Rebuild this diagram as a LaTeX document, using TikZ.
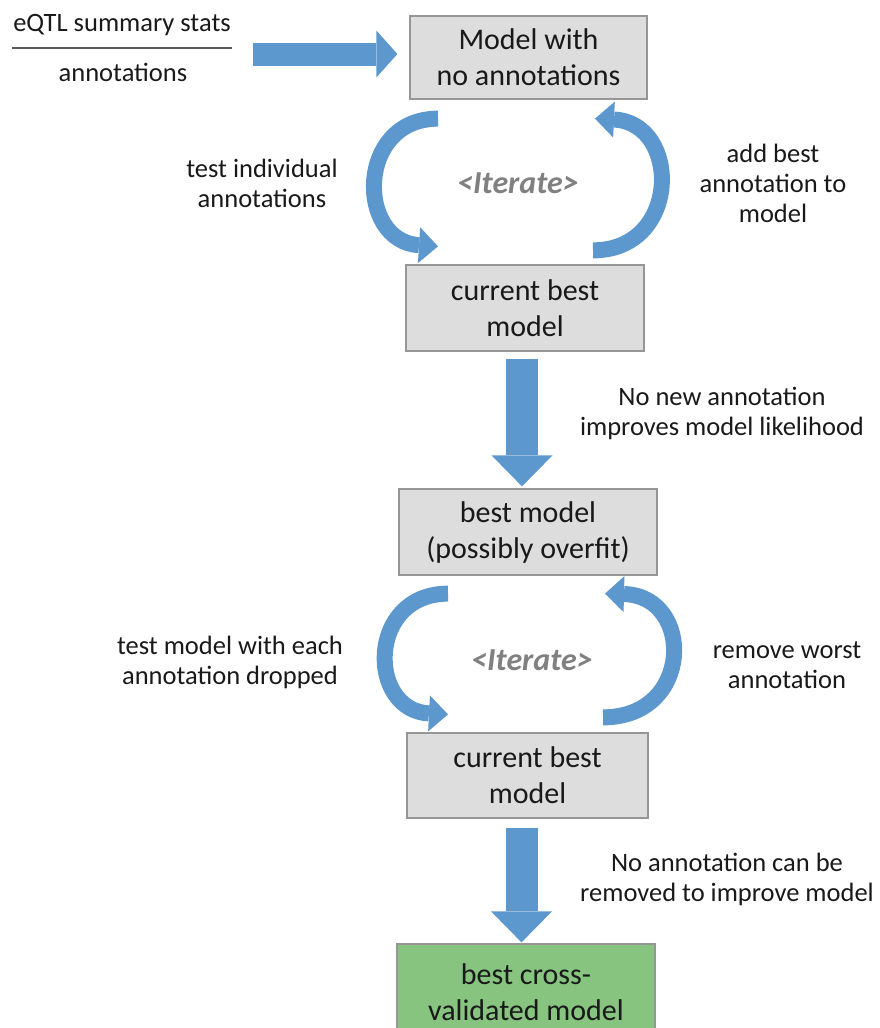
\documentclass[tikz,border=0pt]{standalone}
\usepackage{fontspec}
\setmainfont{Carlito}
\usetikzlibrary{arrows.meta,calc}
\definecolor{boxgray}{RGB}{221,221,221}
\definecolor{boxline}{RGB}{150,150,150}
\definecolor{bestgreen}{RGB}{134,196,128}
\definecolor{arrowblue}{RGB}{92,152,206}
\definecolor{textdark}{RGB}{25,25,25}
\definecolor{itergray}{RGB}{128,128,128}
\definecolor{rulegray}{RGB}{90,90,90}

\begin{document}
\begin{tikzpicture}[x=1pt,y=-1pt]
                \tikzstyle{every node}+=[inner sep=0pt, text=textdark]
                \tikzstyle{box}=[draw=boxline, fill=boxgray, line width=1.3pt, align=center, font=\fontsize{30}{36}\selectfont]
                \tikzstyle{lbl}=[align=center, font=\fontsize{26.5}{30}\selectfont]
                \tikzstyle{iter}=[font=\fontsize{32}{34}\selectfont\bfseries\itshape, text=itergray]
                \tikzstyle{bigarrow}=[arrowblue, line width=32pt, -{Triangle[width=61pt,length=31pt,line width=0pt]}]
                \tikzstyle{looparrow}=[arrowblue, line width=16pt, -{Triangle[width=36pt,length=19pt,line width=0pt]}]
                \clip (0,0) rectangle (880,1028);
                \node [lbl] (eqtl) at (122,25) {eQTL summary stats};
                \draw [rulegray, line width=2.5pt] (12,48) -- (232,48);
                \node [lbl] (annot) at (123,72) {annotations};
                \coordinate (src) at (253,54);
                \node [box, minimum width=237pt, minimum height=83pt] (init) at (528.5,57.5) {Model with\\no annotations};
                \node [box, minimum width=238pt, minimum height=86pt] (cur1) at (525,308) {current best\\model};
                \node [box, minimum width=258pt, minimum height=86pt] (over) at (528,532) {best model\\(possibly overfit)};
                \node [box, minimum width=241pt, minimum height=85pt] (cur2) at (527.5,775.5) {current best\\model};
                \node [box, fill=bestgreen, minimum width=258pt, minimum height=96pt] (final) at (526,992) {best cross-\\validated model};
                \node [lbl] (testind) at (262,183) {test individual\\annotations};
                \node [iter] (iter1) at (518,183) {<Iterate>};
                \node [lbl] (addbest) at (773,183) {add best\\annotation to\\model};
                \node [lbl] (nonew) at (722,413) {No new annotation\\improves model likelihood};
                \node [lbl] (testdrop) at (230,662) {test model with each\\annotation dropped};
                \node [iter] (iter2) at (532,660) {<Iterate>};
                \node [lbl] (remworst) at (787,665) {remove worst\\annotation};
                \node [lbl] (noremove) at (727,879) {No annotation can be\\removed to improve model};
                \draw [bigarrow, line width=23pt, -{Triangle[width=47pt,length=21pt,line width=0pt]}, shorten >=12pt] (src) -- (init.west |- src);
                \draw [looparrow] ($(init.south)+(-90.5,19)$) .. controls +(-82,0) and +(-82,-5) .. ($(cur1.north)+(-87,-18)$);
                \draw [looparrow] ($(cur1.north)+(68,-14)$) .. controls +(88,0) and +(86,4) .. ($(init.south)+(66.5,19)$);
                \draw [bigarrow, shorten <=7pt, shorten >=2pt] ([xshift=-3pt]cur1.south) -- ([xshift=-3pt]cur1.south |- over.north);
                \draw [looparrow] ($(over.south)+(-80,18)$) .. controls +(-81,0) and +(-81,-4) .. ($(cur2.north)+(-79.5,-18)$);
                \draw [looparrow] ($(cur2.north)+(75.5,-15)$) .. controls +(91,0) and +(89,2) .. ($(over.south)+(77,18)$);
                \draw [bigarrow, shorten <=9pt, shorten >=1pt] ([xshift=-6pt]cur2.south) -- ([xshift=-6pt]cur2.south |- final.north);
\end{tikzpicture}
\end{document}
